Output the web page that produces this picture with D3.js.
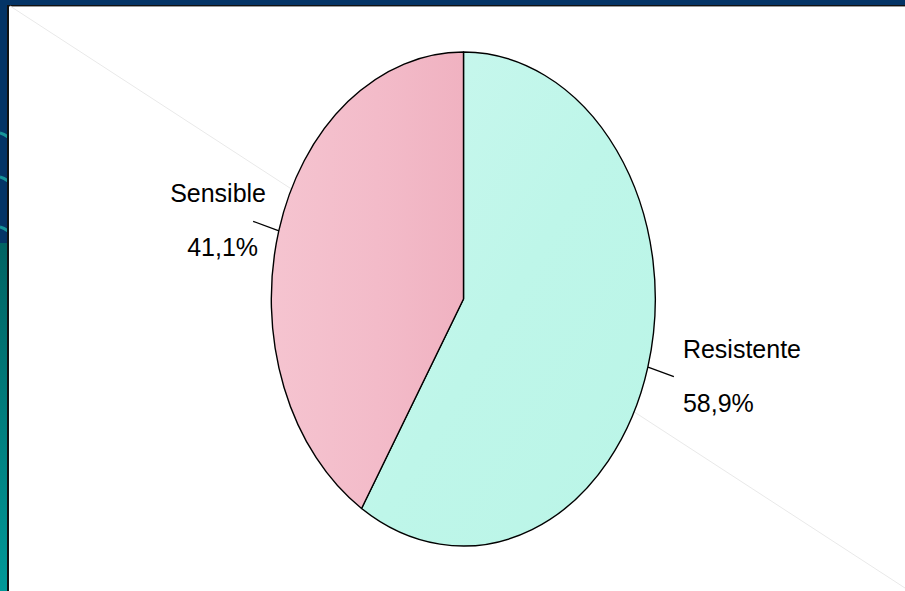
<!DOCTYPE html>
<html>
<head>
<meta charset="utf-8">
<script src="https://cdn.jsdelivr.net/npm/d3@7"></script>
<style>
  html, body { margin: 0; padding: 0; background: #003366; }
  svg { display: block; }
</style>
</head>
<body>
<svg id="chart" width="905" height="591"></svg>
<script>
// Share of isolates by susceptibility result
const categories = ["Resistente", "Sensible"];
const values = [58.9, 41.1];
const valueLabels = ["58,9%", "41,1%"];

const W = 905, H = 591;
const svg = d3.select("#chart");
const defs = svg.append("defs");

// Slide frame: dark blue band with a teal gradient on the left edge
const sideGrad = defs.append("linearGradient")
  .attr("id", "side").attr("x1", 0).attr("y1", 0).attr("x2", 0).attr("y2", 1);
sideGrad.append("stop").attr("offset", "0").attr("stop-color", "#006262");
sideGrad.append("stop").attr("offset", "1").attr("stop-color", "#009898");

svg.append("rect").attr("width", W).attr("height", H).attr("fill", "#043466");
svg.append("rect").attr("x", 0).attr("y", 243).attr("width", 8).attr("height", H - 243)
  .attr("fill", "url(#side)");
[133, 177, 227].forEach(y => {
  svg.append("path")
    .attr("d", `M0,${y} Q4,${y + 1} 8,${y + 4}`)
    .attr("fill", "none").attr("stroke", "#17959a").attr("stroke-width", 3);
});

// White content panel with its dark rim
svg.append("rect").attr("x", 7).attr("y", 5).attr("width", W - 7).attr("height", H - 5)
  .attr("fill", "#111");
svg.append("rect").attr("x", 9).attr("y", 6).attr("width", W - 9).attr("height", 1)
  .attr("fill", "#9a9a9a");
svg.append("rect").attr("x", 9).attr("y", 7).attr("width", W - 9).attr("height", H - 7)
  .attr("fill", "#ffffff");

// Faint diagonal guide across the panel
svg.append("line")
  .attr("x1", 10).attr("y1", 6).attr("x2", W).attr("y2", 588)
  .attr("stroke", "#e9e9e9").attr("stroke-width", 1);

// Slice fills
const pinkGrad = defs.append("linearGradient")
  .attr("id", "pink").attr("x1", 0).attr("y1", 0).attr("x2", 1).attr("y2", 0);
pinkGrad.append("stop").attr("offset", "0").attr("stop-color", "#F5C4D0");
pinkGrad.append("stop").attr("offset", "0.55").attr("stop-color", "#F3BBC9");
pinkGrad.append("stop").attr("offset", "1").attr("stop-color", "#F0B2C1");

const tealGrad = defs.append("linearGradient")
  .attr("id", "teal").attr("x1", 0).attr("y1", 0).attr("x2", 1).attr("y2", 1);
tealGrad.append("stop").attr("offset", "0").attr("stop-color", "#CAF7EE");
tealGrad.append("stop").attr("offset", "0.5").attr("stop-color", "#BEF6E9");
tealGrad.append("stop").attr("offset", "1").attr("stop-color", "#BAF5E7");

const fills = d3.scaleOrdinal().domain(categories).range(["url(#teal)", "url(#pink)"]);

// Elliptical pie: unit arcs stretched to the ellipse radii
const cx = 463.5, cy = 299, rx = 192, ry = 247;
const pie = d3.pie().sort(null).value(d => d.value);
const arcs = pie(categories.map((c, i) => ({ name: c, value: values[i], label: valueLabels[i] })));
const arc = d3.arc().innerRadius(0).outerRadius(1);

const g = svg.append("g").attr("transform", `translate(${cx},${cy})`);
g.selectAll("path.slice")
  .data(arcs)
  .join("path")
  .attr("class", "slice")
  .attr("transform", `scale(${rx},${ry})`)
  .attr("d", arc)
  .attr("fill", d => fills(d.data.name))
  .attr("stroke", "#000")
  .attr("stroke-width", 1.4)
  .attr("vector-effect", "non-scaling-stroke")
  .attr("stroke-linejoin", "round");

// Leader lines and labels
const onEllipse = (a, k) => [Math.sin(a) * rx * k, -Math.cos(a) * ry * k];
const labels = g.selectAll("g.lbl").data(arcs).join("g").attr("class", "lbl");

labels.each(function (d) {
  const mid = (d.startAngle + d.endAngle) / 2;
  const [x0, y0] = onEllipse(mid, 1);
  const [x1, y1] = onEllipse(mid, 1.14);
  const sel = d3.select(this);
  sel.append("line")
    .attr("x1", x0).attr("y1", y0).attr("x2", x1).attr("y2", y1)
    .attr("stroke", "#000").attr("stroke-width", 1.3);
  const right = Math.sin(mid) > 0;
  const nameX = right ? x1 + 9 : x1 - 83;
  const valX = right ? x1 + 9 : x1 - 66;
  sel.append("text")
    .attr("x", nameX).attr("y", y1 - 19)
    .attr("font-family", "'Liberation Sans', Arial, sans-serif")
    .attr("font-size", 25).attr("fill", "#000")
    .text(d.data.name);
  sel.append("text")
    .attr("x", valX).attr("y", y1 + 35)
    .attr("font-family", "'Liberation Sans', Arial, sans-serif")
    .attr("font-size", 25).attr("fill", "#000")
    .text(d.data.label);
});
</script>
</body>
</html>
